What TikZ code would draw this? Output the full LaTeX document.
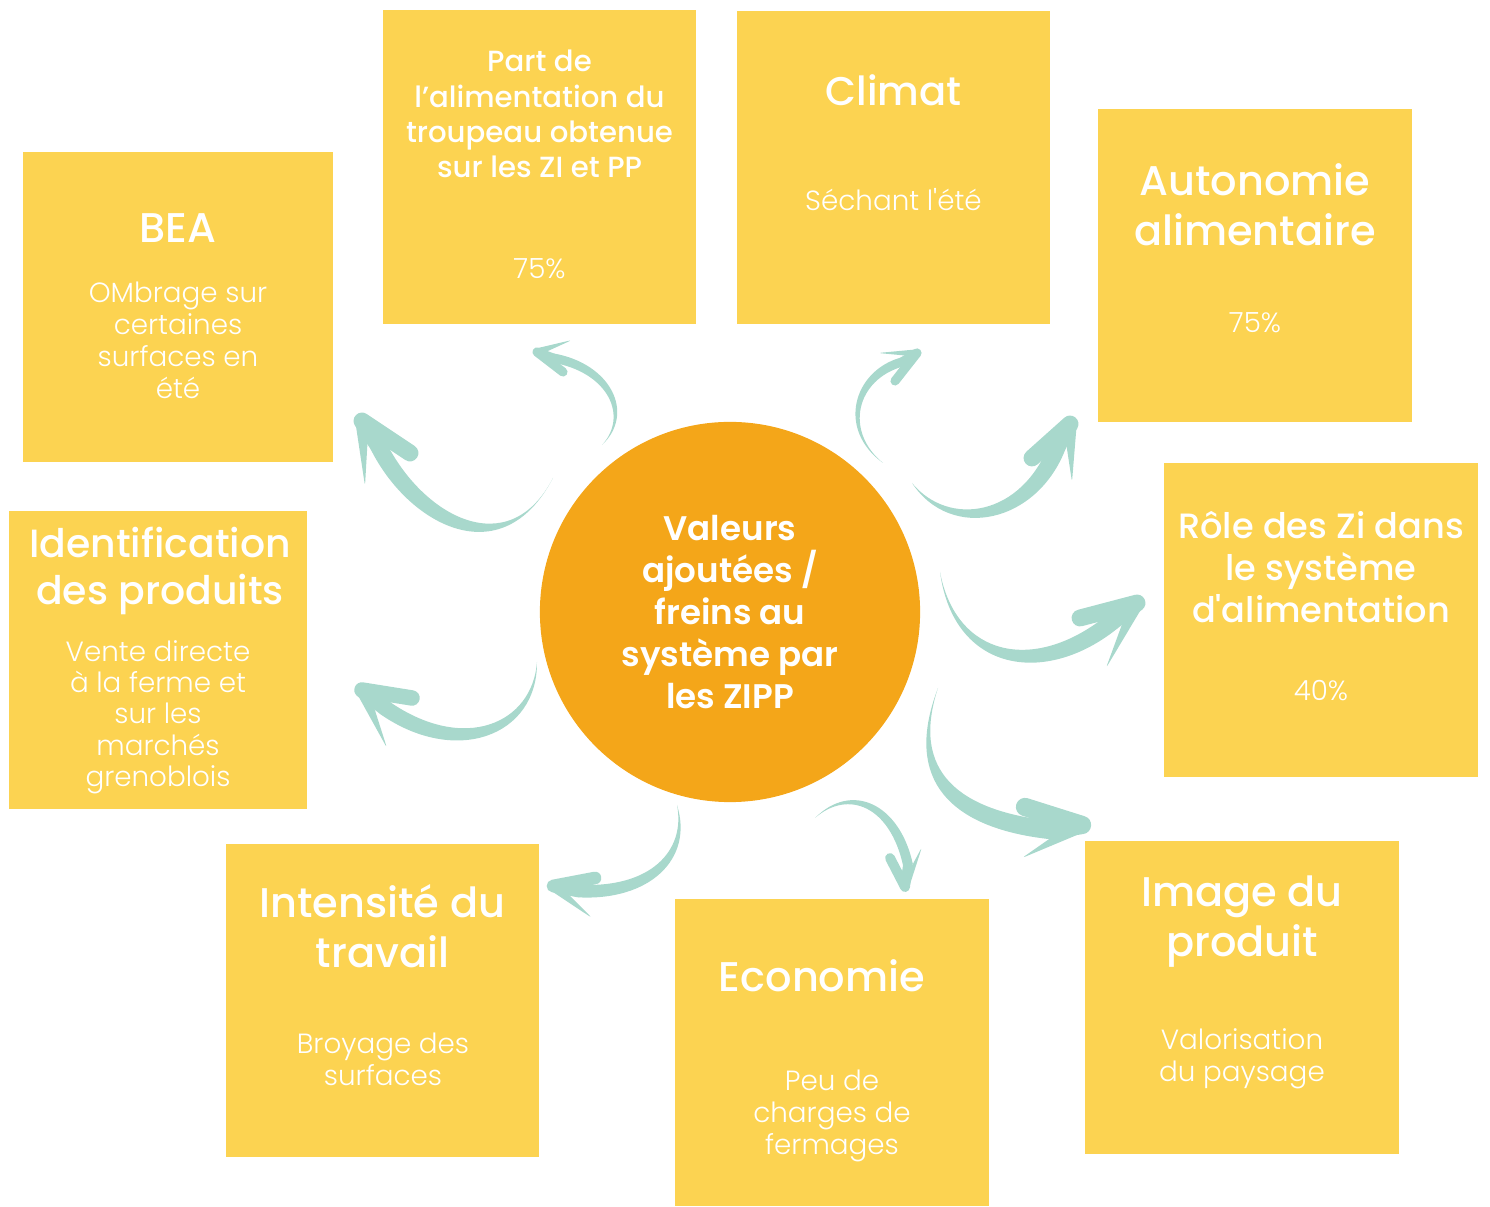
\documentclass[tikz,border=0pt]{standalone}
\usepackage{fontspec}
\setmainfont{Poppins}
\newfontfamily\medfont{Poppins Medium}
\newfontfamily\lightfont{Poppins Light}
\newfontfamily\semifont{Poppins SemiBold}
\usetikzlibrary{calc}
\definecolor{tileyellow}{RGB}{252, 211, 81}
\definecolor{hubamber}{RGB}{244, 166, 25}
\definecolor{swooshmint}{RGB}{168, 216, 204}

% hand-drawn arrow: tail, two controls, shaft end, half width, tip, heavy barb, light barb
\newcommand{\swoosh}[8]{%
  \fill[swooshmint] (#1) .. controls ($(#2)!0.9*#5!-90:(#3)$) and ($(#3)!1.0*#5!-90:(#4)$) .. ($(#4)!#5!90:(#3)$)
    -- ($(#4)!#5!-90:(#3)$) .. controls ($(#3)!1.0*#5!90:(#4)$) and ($(#2)!0.9*#5!90:(#3)$) .. (#1) -- cycle;
  \draw[swooshmint, line width=2*#5, line cap=round, line join=round] (#4) -- (#6) -- (#7);
  \fill[swooshmint, rounded corners=1pt] ($(#6)!0.8*#5!90:(#8)$) -- (#8) -- ($(#6)!0.8*#5!-90:(#8)$) -- cycle;
}

\begin{document}
\begin{tikzpicture}[x=0.01cm, y=-0.01cm,
  tile/.style={fill=tileyellow, inner sep=0pt, minimum width=3.13cm, minimum height=3.13cm},
  title/.style={text=white, align=center, font=\medfont\fontsize{11.8}{14.2}\selectfont},
  note/.style={text=white, align=center, font=\lightfont\fontsize{7.9}{9.1}\selectfont}]

  \useasboundingbox (0, 0) rectangle (1490, 1207);

  % the nine tiles
  \node[tile, minimum width=3.1cm, minimum height=3.1cm] (bea) at (178, 307) {};
  \node[tile] (ration) at (539.5, 167) {};
  \node[tile] (climat) at (893.5, 167.5) {};
  \node[tile] (autonomie) at (1255, 265.5) {};
  \node[tile] (role) at (1321, 620) {};
  \node[tile] (image) at (1242, 997.5) {};
  \node[tile, minimum height=3.07cm] (economie) at (832, 1052.5) {};
  \node[tile] (travail) at (382.5, 1000.5) {};
  \node[tile, minimum width=2.98cm, minimum height=2.98cm] (ident) at (158, 660) {};

  % central disc
  \node[circle, fill=hubamber, minimum size=3.8cm, inner sep=0pt] (hub) at (730, 612) {};
  \node[text=white, align=center, font=\semifont\fontsize{9.7}{12}\selectfont] (hubtxt) at (730, 612)
    {Valeurs\\ajoutées /\\freins au\\système par\\les ZIPP};

  % tile texts
  \node[title] (beat) at (178, 228) {BEA};
  \node[note] (bean) at (178, 340) {OMbrage sur\\certaines\\surfaces en\\été};

  \node[title, font=\medfont\fontsize{8.3}{10}\selectfont] (rationt) at (539.5, 114)
    {Part de\\l’alimentation du\\troupeau obtenue\\sur les ZI et PP};
  \node[note] (rationn) at (539.5, 269) {75\%};

  \node[title, font=\medfont\fontsize{11.4}{14}\selectfont] (climatt) at (893.5, 90) {Climat};
  \node[note] (climatn) at (893.5, 200) {Séchant l'été};

  \node[title] (autonomiet) at (1255, 205) {Autonomie\\alimentaire};
  \node[note] (autonomien) at (1255, 323) {75\%};

  \node[title, font=\medfont\fontsize{10}{12}\selectfont] (rolet) at (1321, 567) {Rôle des Zi dans\\le système\\d'alimentation};
  \node[note] (rolen) at (1321, 691) {40\%};

  \node[title] (imaget) at (1242, 922) {Image du\\produit};
  \node[note] (imagen) at (1242, 1059) {Valorisation\\du paysage};

  \node[title] (economiet) at (822, 976) {Economie};
  \node[note] (economien) at (832, 1116) {Peu de\\charges de\\fermages};

  \node[title] (travailt) at (382.5, 926) {Intensité du\\travail};
  \node[note] (travailn) at (383, 1059) {Broyage des\\surfaces};

  \node[title, font=\medfont\fontsize{11.2}{13.4}\selectfont] (identt) at (160, 571) {Identification\\des produits};
  \node[note, font=\lightfont\fontsize{7.9}{8.9}\selectfont] (identn) at (158, 717) {Vente directe\\à la ferme et\\sur les\\marchés\\grenoblois};

  % arrows round the disc
  \swoosh{553,478}{505,570}{415,520}{378,445}{2.4pt}{362,421}{410,453}{365,486}
  \swoosh{602,445}{632,415}{610,368}{553,358}{1.3pt}{537,352}{563,372}{572,340}
  \swoosh{883,463}{840,430}{855,375}{902,362}{1.3pt}{917,353}{895,381}{878,353}
  \swoosh{912,483}{950,535}{1030,520}{1058,445}{2.4pt}{1070,424}{1032,458}{1072,482}
  \swoosh{940,572}{955,665}{1040,680}{1112,622}{2.4pt}{1137,603}{1080,618}{1106,668}
  \swoosh{938,688}{905,780}{960,820}{1050,830}{2.6pt}{1082,825}{1025,807}{1022,858}
  \swoosh{815,818}{850,785}{895,805}{908,865}{1.4pt}{905,887}{890,858}{922,847}
  \swoosh{677,805}{690,855}{650,895}{578,891}{1.8pt}{553,886}{595,878}{592,918}
  \swoosh{537,662}{535,730}{460,760}{385,708}{2.2pt}{362,690}{412,698}{387,748}

\end{tikzpicture}
\end{document}
